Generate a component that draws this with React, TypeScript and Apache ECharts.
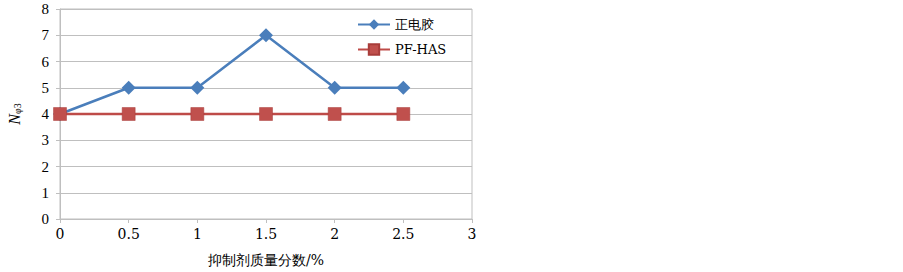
import React, { useEffect, useRef } from "react";
import * as echarts from "echarts";

const xValues = [0, 0.5, 1, 1.5, 2, 2.5];
const seriesNames = ["正电胶", "PF-HAS"];
const zhengDianJiao = [4, 5, 5, 7, 5, 5];
const pfHas = [4, 4, 4, 4, 4, 4];
const xTickLabels: Record<string, string> = { "0": "0", "0.5": "0.5", "1": "1", "1.5": "1.5", "2": "2", "2.5": "2.5", "3": "3" };

export default function App() {
  const ref = useRef<HTMLDivElement>(null);
  useEffect(() => {
    if (!ref.current) return;
    const chart = echarts.init(ref.current, undefined, { renderer: "svg" });
    const serif = "'Liberation Serif', serif";
    const wideSerif = "'DejaVu Serif', serif";
    chart.setOption({
      animation: false,
      backgroundColor: "#fff",
      grid: { left: 60, right: 431, top: 9, bottom: 47, show: true, borderColor: "#bfbfbf", borderWidth: 1 },
      legend: {
        orient: "vertical",
        left: 352,
        top: 13,
        itemWidth: 32,
        itemHeight: 13,
        itemGap: 12,
        textStyle: { fontFamily: wideSerif, fontSize: 13, color: "#000" },
        data: seriesNames,
      },
      xAxis: {
        type: "value",
        min: 0,
        max: 3,
        interval: 0.5,
        name: "抑制剂质量分数/%",
        nameLocation: "middle",
        nameGap: 34,
        nameTextStyle: { fontFamily: wideSerif, fontSize: 14, color: "#000" },
        axisLine: { lineStyle: { color: "#bfbfbf" } },
        axisTick: { show: true, length: 4, inside: false, lineStyle: { color: "#bfbfbf" } },
        axisLabel: {
          fontFamily: wideSerif,
          fontSize: 14,
          color: "#000",
          margin: 8,
          formatter: (v: number) => xTickLabels[String(v)] ?? String(v),
        },
        splitLine: { show: false },
      },
      yAxis: {
        type: "value",
        min: 0,
        max: 8,
        interval: 1,
        name: "{n|N}{s|φ3}",
        nameLocation: "middle",
        nameGap: 38,
        nameRotate: 90,
        nameTextStyle: {
          rich: {
            n: { fontFamily: serif, fontStyle: "italic", fontSize: 16, color: "#000" },
            s: { fontFamily: serif, fontSize: 10, color: "#000", verticalAlign: "bottom", padding: [6, 0, 0, 0] },
          },
        },
        axisLine: { show: true, lineStyle: { color: "#bfbfbf" } },
        axisTick: { show: true, length: 4, lineStyle: { color: "#bfbfbf" } },
        axisLabel: { fontFamily: serif, fontSize: 15, color: "#000", margin: 11 },
        splitLine: { show: true, lineStyle: { color: "#bfbfbf", width: 1 } },
      },
      series: [
        {
          name: seriesNames[0],
          type: "line",
          data: xValues.map((x, i) => [x, zhengDianJiao[i]]),
          symbol: "diamond",
          symbolSize: 14,
          lineStyle: { color: "#4a7ebb", width: 2.5 },
          itemStyle: { color: "#4a7ebb" },
          z: 3,
        },
        {
          name: seriesNames[1],
          type: "line",
          data: xValues.map((x, i) => [x, pfHas[i]]),
          symbol: "rect",
          symbolSize: 13,
          lineStyle: { color: "#be4b48", width: 2.5 },
          itemStyle: { color: "#c0504d", borderColor: "#a83c3a", borderWidth: 0.5 },
          z: 4,
        },
      ],
    });
    return () => chart.dispose();
  }, []);
  return <div ref={ref} style={{ width: 903, height: 272, position: "absolute", left: 0, top: 0 }} />;
}
